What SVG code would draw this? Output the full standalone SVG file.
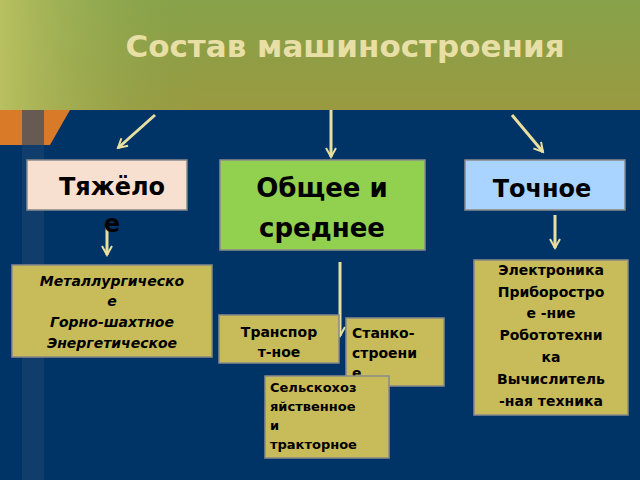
<svg xmlns="http://www.w3.org/2000/svg" width="640" height="480" viewBox="0 0 640 480">
<defs>
<linearGradient id="top" x1="0" y1="0" x2="0" y2="1"><stop offset="0" stop-color="#86a24a"/><stop offset="1" stop-color="#9a9a40"/></linearGradient>
<linearGradient id="tl" x1="0" y1="0" x2="1" y2="0"><stop offset="0" stop-color="#b8c060"/><stop offset="1" stop-color="#86a24a" stop-opacity="0"/></linearGradient>
<marker id="ah" viewBox="0 0 12 12" refX="10" refY="6" markerWidth="12" markerHeight="12" markerUnits="userSpaceOnUse" orient="auto"><path d="M1,1 L10,6 L1,11" fill="none" stroke="#e8e0a0" stroke-width="2"/></marker>
</defs>
<style>
.b{stroke:#8a8a8a;stroke-width:1.5}
.y{fill:#c8bb5a}
.t{font-family:"DejaVu Sans",sans-serif;font-weight:bold;fill:#000}
.c{stroke:#e8e0a0;stroke-width:3;fill:none;marker-end:url(#ah)}
</style>
<rect width="640" height="480" fill="#003366"/>
<rect width="640" height="110" fill="url(#top)"/>
<rect width="200" height="110" fill="url(#tl)"/>
<path d="M0,110 H70 L50,145 H0 Z" fill="#d87a28"/>
<rect x="22" y="110" width="22" height="370" fill="#1a4470" opacity="0.6"/>
<text x="345" y="57" text-anchor="middle" font-family="DejaVu Sans,sans-serif" font-weight="bold" font-size="31" fill="#e8dfa6">Состав машиностроения</text>
<g id="connectors">
<line class="c" x1="155" y1="115" x2="118" y2="148"/>
<line class="c" x1="331" y1="110" x2="331" y2="157"/>
<line class="c" x1="512" y1="115" x2="543" y2="152"/>
<line class="c" x1="107" y1="222" x2="107" y2="255"/>
<line class="c" x1="555" y1="215" x2="555" y2="248"/>
<line class="c" x1="340" y1="262" x2="340" y2="336"/>
</g>
<g id="heavy"><rect class="b" x="27" y="160" width="160" height="50" fill="#f8e0d0"/>
<text class="t" font-size="24" x="112" y="195" text-anchor="middle">Тяжёло</text><text class="t" font-size="24" x="112" y="232" text-anchor="middle">е</text></g>
<g id="general"><rect class="b" x="220" y="160" width="205" height="90" fill="#92d050"/>
<text class="t" font-size="26" x="322" y="197" text-anchor="middle">Общее и</text><text class="t" font-size="26" x="322" y="237" text-anchor="middle">среднее</text></g>
<g id="precise"><rect class="b" x="465" y="160" width="160" height="50" fill="#a8d4ff"/>
<text class="t" font-size="24" x="542" y="197" text-anchor="middle">Точное</text></g>
<g id="metal"><rect class="b y" x="12" y="265" width="200" height="92"/>
<text class="t" font-size="14" font-style="italic" text-anchor="middle"><tspan x="112" y="286">Металлургическо</tspan><tspan x="112" y="306">е</tspan><tspan x="112" y="327">Горно-шахтное</tspan><tspan x="112" y="348">Энергетическое</tspan></text></g>
<g id="transport"><rect class="b y" x="219" y="315" width="120" height="48"/>
<text class="t" font-size="14" text-anchor="middle"><tspan x="279" y="337">Транспор</tspan><tspan x="279" y="357">т-ное</tspan></text></g>
<g id="stanko"><rect class="b y" x="346" y="318" width="98" height="68"/>
<text class="t" font-size="14"><tspan x="352" y="338">Станко-</tspan><tspan x="352" y="358">строени</tspan><tspan x="352" y="378">е</tspan></text></g>
<g id="selsk"><rect class="b y" x="265" y="376" width="124" height="82"/>
<text class="t" font-size="13"><tspan x="270" y="392">Сельскохоз</tspan><tspan x="270" y="411">яйственное</tspan><tspan x="270" y="430">и</tspan><tspan x="270" y="449">тракторное</tspan></text></g>
<g id="electro"><rect class="b y" x="474" y="260" width="154" height="155"/>
<text class="t" font-size="14" text-anchor="middle"><tspan x="551" y="275">Электроника</tspan><tspan x="551" y="297">Приборостро</tspan><tspan x="551" y="318">е -ние</tspan><tspan x="551" y="340">Робототехни</tspan><tspan x="551" y="362">ка</tspan><tspan x="551" y="384">Вычислитель</tspan><tspan x="551" y="406">-ная техника</tspan></text></g>
</svg>
